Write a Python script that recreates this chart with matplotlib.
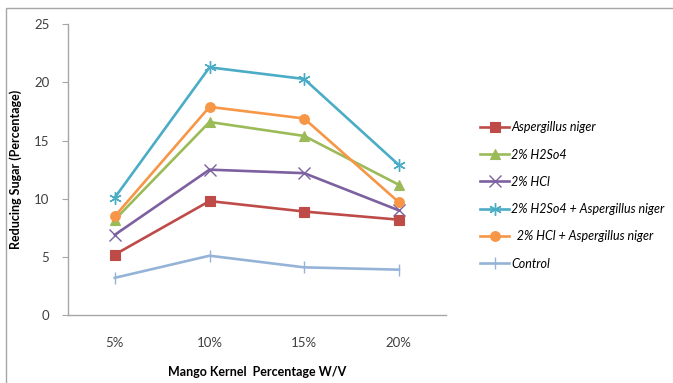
import matplotlib.pyplot as plt
from matplotlib.patches import Rectangle

plt.rcParams["font.family"] = ["Lato", "DejaVu Sans"]

categories = ["5%", "10%", "15%", "20%"]
series_names = ["Aspergillus niger", "2% H2So4", "2% HCl",
                "2% H2So4 + Aspergillus niger", "  2% HCl + Aspergillus niger", "Control"]
asp_niger = [5.2, 9.8, 8.9, 8.2]
h2so4 = [8.2, 16.6, 15.4, 11.2]
hcl = [6.9, 12.5, 12.2, 9.0]
h2so4_asp = [10.1, 21.3, 20.3, 12.9]
hcl_asp = [8.5, 17.9, 16.9, 9.7]
control = [3.2, 5.1, 4.1, 3.9]

colors = ["#BE4B48", "#9BBB59", "#7D60A0", "#4BACC6", "#F79646", "#95B3D7"]
markers = ["s", "^", "x", (6, 2, 0), "o", "|"]
msizes = [7, 7, 8, 9, 7, 9]

fig = plt.figure(figsize=(6.73, 3.83), dpi=100)
ax = fig.add_axes([0.1003, 0.1775, 0.5627, 0.759])

# outer chart frame (cropped at right/bottom in the original)
fig.patches.append(Rectangle((6 / 673, -0.05), 1.1, 1 - 8 / 383 + 0.05,
                             transform=fig.transFigure, fill=False,
                             edgecolor="#A6A6A6", linewidth=1.0))

x = range(len(categories))
data = [asp_niger, h2so4, hcl, h2so4_asp, hcl_asp, control]
for vals, name, c, m, ms in zip(data, series_names, colors, markers, msizes):
    thin = m in ("x", "|") or isinstance(m, tuple)
    ax.plot(x, vals, color=c, marker=m, markersize=ms, linewidth=1.9,
            markeredgewidth=1.0 if thin else 0.8,
            markeredgecolor=c, label=name)

ax.set_xlim(-0.5, 3.5)
ax.set_ylim(0, 25)
ax.set_yticks([0, 5, 10, 15, 20, 25])
ax.set_xticks(list(x))
ax.set_xticklabels(categories)
ax.tick_params(axis="x", length=0, pad=16, labelsize=9.5, labelcolor="#404040")
ax.tick_params(axis="y", length=4, width=0.8, color="#A6A6A6", pad=9,
               labelsize=9.5, labelcolor="#404040")
for s in ["top", "right"]:
    ax.spines[s].set_visible(False)
for s in ["left", "bottom"]:
    ax.spines[s].set_color("#A6A6A6")
    ax.spines[s].set_linewidth(1.0)

ax.set_xlabel("Mango Kernel  Percentage W/V", fontsize=9, fontweight="bold",
              labelpad=12)
ax.set_ylabel("Reducing Sugar (Percentage)", fontsize=9, fontweight="bold")
ax.yaxis.set_label_coords(-0.12, 0.5)

leg = ax.legend(loc="upper left", bbox_to_anchor=(1.06, 0.705), frameon=False,
                prop={"style": "italic", "size": 9}, handlelength=2.3,
                labelspacing=1.22, handletextpad=0.2)

fig.savefig("out.png", dpi=100)
